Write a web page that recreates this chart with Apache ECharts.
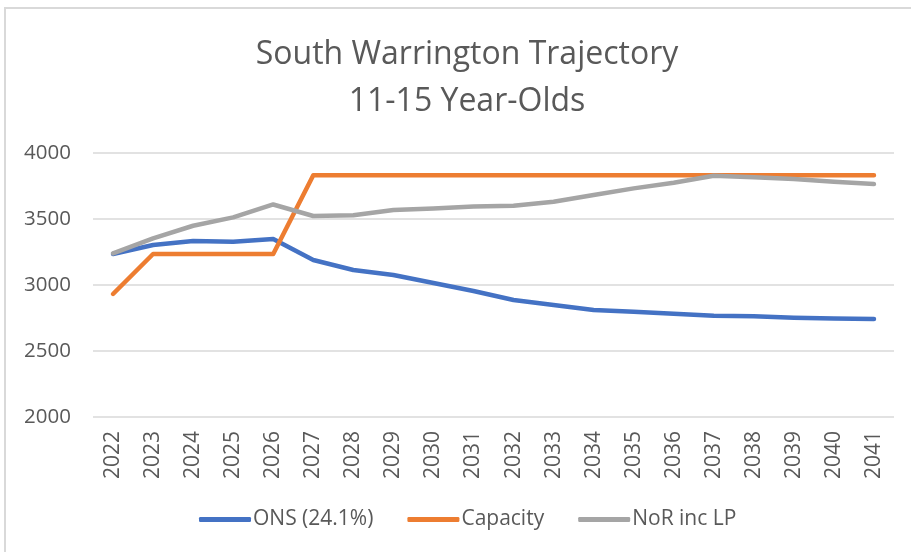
<!DOCTYPE html>
<html>
<head>
<meta charset="utf-8">
<script src="https://cdn.jsdelivr.net/npm/echarts@6/dist/echarts.min.js"></script>
<style>
html,body{margin:0;padding:0;background:#fff;}
#chart{width:911px;height:552px;}
</style>
</head>
<body>
<div id="chart"></div>
<script>
var years = ['2022','2023','2024','2025','2026','2027','2028','2029','2030','2031','2032','2033','2034','2035','2036','2037','2038','2039','2040','2041'];
var onsValues = [3235,3303,3333,3328,3348,3189,3114,3076,3015,2955,2886,2848,2811,2798,2783,2767,2763,2752,2747,2742];
var capacityValues = [2932,3235,3235,3235,3235,3832,3832,3832,3832,3832,3832,3832,3832,3832,3832,3832,3832,3832,3832,3832];
var norValues = [3240,3353,3449,3512,3610,3523,3528,3568,3580,3594,3600,3631,3682,3732,3775,3828,3816,3803,3783,3765];
var seriesNames = ['ONS (24.1%)','Capacity','NoR inc LP'];
var yTicks = {min:2000, max:4000, interval:500};

var FONT = 'Open Sans';
var TXT = '#595959';
var chart = echarts.init(document.getElementById('chart'));
function line(name, data, color){
  return {name:name, type:'line', data:data, symbol:'none', smooth:false,
    lineStyle:{color:color, width:4.5, cap:'round', join:'round'}, itemStyle:{color:color}};
}
chart.setOption({
  animation:false,
  backgroundColor:'#fff',
  graphic:[{type:'rect', shape:{x:5,y:8,width:920,height:560}, style:{fill:'none', stroke:'#d9d9d9', lineWidth:2}, silent:true}],
  title:{
    text:'South Warrington Trajectory\n11-15 Year-Olds',
    left:462, top:26, textAlign:'center',
    textStyle:{fontFamily:FONT, fontSize:32, fontWeight:'normal', color:TXT, lineHeight:47}
  },
  legend:{
    data:seriesNames, bottom:17, left:194,
    icon:'roundRect', itemWidth:52, itemHeight:5, itemGap:34,
    textStyle:{fontFamily:FONT, fontSize:21, color:TXT, padding:[0,0,0,-3]}
  },
  grid:{left:93, right:17, top:153, bottom:135, containLabel:false},
  xAxis:{
    type:'category', data:years, boundaryGap:true,
    axisLine:{show:false}, axisTick:{show:false},
    axisLabel:{rotate:90, fontFamily:FONT, fontSize:21, color:TXT, margin:14}
  },
  yAxis:{
    type:'value', min:yTicks.min, max:yTicks.max, interval:yTicks.interval,
    axisLine:{show:false}, axisTick:{show:false},
    splitLine:{lineStyle:{color:'#d9d9d9', width:1.5}},
    axisLabel:{fontFamily:FONT, fontSize:20.5, color:TXT, margin:22, formatter:function(v){return String(v);}}
  },
  series:[
    line(seriesNames[0], onsValues, '#4472c4'),
    line(seriesNames[1], capacityValues, '#ed7d31'),
    line(seriesNames[2], norValues, '#a5a5a5')
  ]
});
</script>
</body>
</html>
